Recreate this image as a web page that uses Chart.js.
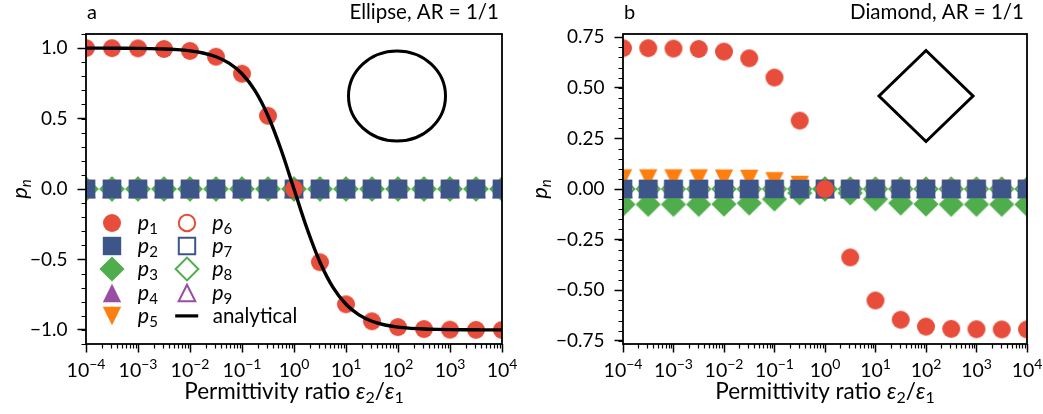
<!DOCTYPE html>
<html><head><meta charset="utf-8">
<script src="https://cdn.jsdelivr.net/npm/chart.js@4/dist/chart.umd.min.js"></script>
<style>
html,body{margin:0;padding:0;background:#fff;}
#wrap{position:relative;width:1043px;height:414px;overflow:hidden;background:#fff;}
canvas{position:absolute;top:0;}
#ca{left:0;} #cb{left:520px;}
</style></head><body>
<div id="wrap"><canvas id="ca" width="520" height="414"></canvas><canvas id="cb" width="523" height="414"></canvas></div>
<script>
// ---------- data ----------
const permittivity = [1e-4, 3.162e-4, 1e-3, 3.162e-3, 1e-2, 3.162e-2, 0.1, 0.3162, 1, 3.162, 10, 31.62, 100, 316.2, 1000, 3162, 1e4];
const zeroSeries   = [0, 0, 0, 0, 0, 0, 0, 0, 0, 0, 0, 0, 0, 0, 0, 0, 0];
const ellipseP1 = [0.9998, 0.9994, 0.998, 0.9937, 0.9802, 0.9387, 0.8182, 0.5195, 0, -0.5195, -0.8182, -0.9387, -0.9802, -0.9937, -0.998, -0.9994, -0.9998];
const diamondP1 = [0.696, 0.696, 0.694, 0.692, 0.679, 0.646, 0.551, 0.338, 0, -0.338, -0.551, -0.646, -0.680, -0.691, -0.693, -0.694, -0.694];
const diamondP3 = [-0.076, -0.076, -0.076, -0.076, -0.075, -0.070, -0.050, -0.020, 0, -0.020, -0.050, -0.070, -0.075, -0.076, -0.076, -0.076, -0.076];
const diamondP5 = [0.052, 0.052, 0.052, 0.052, 0.051, 0.050, 0.038, 0.020, 0, 0, 0, 0, 0, 0, 0, 0, 0];
const analyticalX = [1e-4, 1.778e-4, 3.162e-4, 5.623e-4, 1e-3, 1.778e-3, 3.162e-3, 5.623e-3, 1e-2, 1.778e-2, 3.162e-2, 5.623e-2, 0.1, 0.1778, 0.3162, 0.5623, 1, 1.778, 3.162, 5.623, 10, 17.78, 31.62, 56.23, 100, 177.8, 316.2, 562.3, 1000, 1778, 3162, 5623, 1e4];
const analyticalY = [0.9998, 0.9996, 0.9994, 0.9989, 0.998, 0.9965, 0.9937, 0.9888, 0.9802, 0.9651, 0.9387, 0.8935, 0.8182, 0.6981, 0.5195, 0.28, 0, -0.28, -0.5195, -0.6981, -0.8182, -0.8935, -0.9387, -0.9651, -0.9802, -0.9888, -0.9937, -0.9965, -0.998, -0.9989, -0.9994, -0.9996, -0.9998];
const xTickExponents = [-4, -3, -2, -1, 0, 1, 2, 3, 4];
const ellipseYTicks = [-1, -0.5, 0, 0.5, 1];
const diamondYTicks = [-0.75, -0.5, -0.25, 0, 0.25, 0.5, 0.75];
const seriesIndex = ['1', '2', '3', '4', '5', '6', '7', '8', '9'];
const panelLetters = ['a', 'b'];
const panelTitles = ['Ellipse, AR = 1/1', 'Diamond, AR = 1/1'];
const analyticalLabel = 'analytical';
const xTitleText = 'Permittivity ratio ';

// ---------- styles ----------
const RED = '#e84c3a', BLUE = '#3d5589', GREEN = '#4fad4c', PURPLE = '#984ea3', ORANGE = '#ff7f0e';
const FONT = 'Lato';

function makeMarker(shape, color, filled) {
  const S = 30, h = S / 2;
  const c = document.createElement('canvas'); c.width = S; c.height = S;
  const g = c.getContext('2d');
  g.beginPath();
  if (shape === 'circle') { g.arc(h, h, filled ? 9 : 8.2, 0, 2 * Math.PI); }
  else if (shape === 'square') { const a = filled ? 9.2 : 8.2; g.rect(h - a, h - a, 2 * a, 2 * a); }
  else if (shape === 'diamond') { const a = filled ? 12.6 : 11.4; g.moveTo(h, h - a); g.lineTo(h + a, h); g.lineTo(h, h + a); g.lineTo(h - a, h); g.closePath(); }
  else if (shape === 'up') { const a = filled ? 9.2 : 8.3; g.moveTo(h, h - a); g.lineTo(h + a, h + a); g.lineTo(h - a, h + a); g.closePath(); }
  else if (shape === 'down') { const a = filled ? 9.2 : 8.3; g.moveTo(h, h + a); g.lineTo(h + a, h - a); g.lineTo(h - a, h - a); g.closePath(); }
  if (filled) { g.fillStyle = color; g.fill(); }
  else { g.lineJoin = 'miter'; g.lineWidth = 2; g.strokeStyle = color; g.stroke(); }
  return c;
}
const markers = [
  makeMarker('circle', RED, true), makeMarker('square', BLUE, true), makeMarker('diamond', GREEN, true),
  makeMarker('up', PURPLE, true), makeMarker('down', ORANGE, true),
  makeMarker('circle', RED, false), makeMarker('square', BLUE, false), makeMarker('diamond', GREEN, false),
  makeMarker('up', PURPLE, false)
];

function drawRich(ctx, segs, x, y, align) {
  let w = 0;
  segs.forEach(s => { ctx.font = s[1]; w += ctx.measureText(s[0]).width; });
  let cx = align === 'center' ? x - w / 2 : (align === 'right' ? x - w : x);
  ctx.textAlign = 'left'; ctx.textBaseline = 'alphabetic';
  segs.forEach(s => { ctx.font = s[1]; ctx.fillText(s[0], cx, y + (s[2] || 0)); cx += ctx.measureText(s[0]).width; });
}
const fmtMinus = s => s.replace('-', '\u2212');

function decorPlugin(p) {
  return {
    id: 'decor' + p.idx,
    afterDraw(chart) {
      const ctx = chart.ctx, a = chart.chartArea;
      const xs = chart.scales.x, ys = chart.scales.y;
      ctx.save();
      ctx.fillStyle = '#000'; ctx.strokeStyle = '#000';
      // minor ticks
      ctx.lineWidth = 1.2;
      ctx.beginPath();
      for (let d = -4; d < 4; d++) for (let m = 2; m <= 9; m++) {
        const px = Math.round(xs.getPixelForValue(m * Math.pow(10, d))) + 0.5;
        ctx.moveTo(px, a.bottom); ctx.lineTo(px, a.bottom + 4.5);
      }
      for (let v = p.yMin; v <= p.yMax + 1e-9; v += p.yMinor) {
        const vv = Math.round(v / p.yMinor) * p.yMinor;
        if (vv < ys.min || vv > ys.max) continue;
        const py = Math.round(ys.getPixelForValue(vv)) + 0.5;
        ctx.moveTo(a.left, py); ctx.lineTo(a.left - 4.5, py);
      }
      ctx.stroke();
      // frame
      ctx.lineWidth = 1.8;
      ctx.strokeRect(a.left, a.top, a.right - a.left, a.bottom - a.top);
      // x tick labels
      xTickExponents.forEach(e => {
        const px = xs.getPixelForValue(Math.pow(10, e));
        drawRich(ctx, [['10', `19.5px ${FONT}`], [fmtMinus(String(e)), `14px ${FONT}`, -8]], px, 377, 'center');
      });
      // x title
      const cxm = (a.left + a.right) / 2;
      drawRich(ctx, [[xTitleText, `22.5px ${FONT}`], ['\u03b5', `italic 22.5px ${FONT}`], ['2', `16px ${FONT}`, 4],
        ['/', `22.5px ${FONT}`], ['\u03b5', `italic 22.5px ${FONT}`], ['1', `16px ${FONT}`, 4]], cxm, 399, 'center');
      // y title
      ctx.save();
      ctx.translate(p.yTitleX, (a.top + a.bottom) / 2);
      ctx.rotate(-Math.PI / 2);
      drawRich(ctx, [['p', `italic 22px ${FONT}`], ['n', `italic 15px ${FONT}`, 4]], 0, 0, 'center');
      ctx.restore();
      // panel titles
      drawRich(ctx, [[panelLetters[p.idx], `20px ${FONT}`]], a.left + 1, 19, 'left');
      drawRich(ctx, [[panelTitles[p.idx], `20.5px ${FONT}`]], a.right - 3, 19, 'right');
      // inset shape
      const w = a.right - a.left, hh = a.bottom - a.top;
      const ix = a.left + 0.75 * w, iy = a.top + 0.2 * hh;
      ctx.lineWidth = 3; ctx.lineJoin = 'miter';
      ctx.beginPath();
      if (p.shape === 'ellipse') ctx.ellipse(ix - 1, iy, 48.5, 45, 0, 0, 2 * Math.PI);
      else { ctx.moveTo(ix, iy - 45.5); ctx.lineTo(ix + 47, iy); ctx.lineTo(ix, iy + 45.5); ctx.lineTo(ix - 47, iy); ctx.closePath(); }
      ctx.stroke();
      // legend
      if (p.legend) {
        const lx1 = a.left + 26.3, lx2 = a.left + 100.7, ly = a.top + 188.7, dy = 23.3;
        for (let i = 0; i < 9; i++) {
          const col = i < 5 ? 0 : 1, row = i < 5 ? i : i - 5;
          const mx = col ? lx2 : lx1, my = ly + row * dy;
          ctx.drawImage(markers[i], Math.round(mx - 15), Math.round(my - 15));
          drawRich(ctx, [['p', `italic 21.5px ${FONT}`], [seriesIndex[i], `15px ${FONT}`, 4]], mx + 25.5, my + 7, 'left');
        }
        const my = ly + 4 * dy;
        ctx.lineWidth = 3.2; ctx.beginPath(); ctx.moveTo(lx2 - 11.5, my); ctx.lineTo(lx2 + 11.5, my); ctx.stroke();
        drawRich(ctx, [[analyticalLabel, `20.5px ${FONT}`]], lx2 + 26, my + 7, 'left');
      }
      ctx.restore();
    }
  };
}

function buildChart(canvasId, p) {
  const datasets = [];
  if (p.analytical) {
    datasets.push({
      data: analyticalX.map((x, i) => ({ x, y: analyticalY[i] })),
      showLine: true, borderColor: '#000', borderWidth: 3.4, pointRadius: 0,
      cubicInterpolationMode: 'monotone', clip: 0, fill: false
    });
  }
  p.series.forEach((vals, i) => {
    datasets.push({
      data: permittivity.map((x, j) => ({ x, y: vals[j] })),
      showLine: false, pointStyle: markers[i], pointRadius: 9, pointHoverRadius: 9, clip: 0
    });
  });
  const tickFmt = v => fmtMinus(Number(v).toFixed(p.decimals));
  return new Chart(document.getElementById(canvasId), {
    type: 'scatter',
    data: { datasets },
    options: {
      responsive: false, animation: false, devicePixelRatio: 1, events: [],
      layout: { padding: { top: 34, right: p.padRight, bottom: 0, left: 0 } },
      plugins: { legend: { display: false }, tooltip: { enabled: false }, title: { display: false } },
      scales: {
        x: {
          type: 'logarithmic', min: 1e-4, max: 1e4,
          afterBuildTicks: s => { s.ticks = xTickExponents.map(e => ({ value: Math.pow(10, e) })); },
          afterFit: s => { s.height = 70; },
          ticks: { display: false },
          grid: { display: true, drawOnChartArea: false, drawTicks: true, tickLength: 8.5, tickWidth: 1.5, tickColor: '#000' },
          border: { display: false }
        },
        y: {
          type: 'linear', min: p.yMin, max: p.yMax,
          afterBuildTicks: s => { s.ticks = p.yTicks.map(v => ({ value: v })); },
          afterFit: s => { s.width = p.yWidth; },
          ticks: { callback: tickFmt, color: '#000', font: { family: FONT, size: 19 }, padding: 10 },
          grid: { display: true, drawOnChartArea: false, drawTicks: true, tickLength: 8.5, tickWidth: 1.5, tickColor: '#000' },
          border: { display: false }
        }
      }
    },
    plugins: [decorPlugin(p)]
  });
}

buildChart('ca', {
  idx: 0, shape: 'ellipse', legend: true, analytical: true,
  series: [ellipseP1, zeroSeries, zeroSeries, zeroSeries, zeroSeries, zeroSeries, zeroSeries, zeroSeries, zeroSeries],
  yMin: -1.1, yMax: 1.1, yTicks: ellipseYTicks, yMinor: 0.1, decimals: 1,
  yWidth: 86, padRight: 18, yTitleX: 27
});
buildChart('cb', {
  idx: 1, shape: 'diamond', legend: false, analytical: false,
  series: [diamondP1, zeroSeries, diamondP3, zeroSeries, diamondP5, zeroSeries, zeroSeries, zeroSeries, zeroSeries],
  yMin: -0.766, yMax: 0.766, yTicks: diamondYTicks, yMinor: 0.05, decimals: 2,
  yWidth: 103, padRight: 16, yTitleX: 27
});
</script>
</body></html>
